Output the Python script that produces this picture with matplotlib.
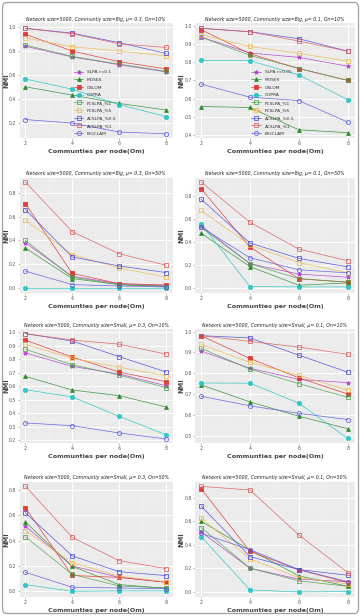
import matplotlib
matplotlib.use("Agg")
import matplotlib.pyplot as plt
from matplotlib.patches import FancyBboxPatch
from matplotlib.ticker import MultipleLocator

om = [2, 4, 6, 8]
methods = ['SLPA', 'MOSES', 'OSLOM', 'COPRA', 'PCSLPA_%1', 'PCSLPA_%5',
           'ACSLPA_%0.5', 'ACSLPA_%1', 'BIGCLAM']

# Panel 1: Big, mu=0.3, On=10%
p1 = {'SLPA': [0.84, 0.75, 0.685, 0.625], 'MOSES': [0.50, 0.43, 0.36, 0.305],
      'OSLOM': [0.94, 0.80, 0.71, 0.65], 'COPRA': [0.565, 0.48, 0.35, 0.25],
      'PCSLPA_%1': [0.85, 0.755, 0.69, 0.63], 'PCSLPA_%5': [0.91, 0.835, 0.80, 0.76],
      'ACSLPA_%0.5': [0.99, 0.95, 0.87, 0.78], 'ACSLPA_%1': [0.99, 0.945, 0.86, 0.83],
      'BIGCLAM': [0.225, 0.195, 0.12, 0.105]}
# Panel 2: Big, mu=0.1, On=10%
p2 = {'SLPA': [0.937, 0.85, 0.826, 0.778], 'MOSES': [0.557, 0.552, 0.43, 0.414],
      'OSLOM': [0.978, 0.846, 0.765, 0.70], 'COPRA': [0.81, 0.808, 0.73, 0.595],
      'PCSLPA_%1': [0.937, 0.837, 0.765, 0.70], 'PCSLPA_%5': [0.95, 0.886, 0.848, 0.805],
      'ACSLPA_%0.5': [0.985, 0.966, 0.928, 0.86], 'ACSLPA_%1': [0.985, 0.966, 0.915, 0.86],
      'BIGCLAM': [0.68, 0.608, 0.59, 0.472]}
# Panel 3: Big, mu=0.3, On=50%
p3 = {'SLPA': [0.38, 0.096, 0.034, 0.017], 'MOSES': [0.335, 0.077, 0.026, 0.012],
      'OSLOM': [0.712, 0.12, 0.034, 0.023], 'COPRA': [0.0, 0.0, 0.0, 0.0],
      'PCSLPA_%1': [0.40, 0.09, 0.025, 0.006], 'PCSLPA_%5': [0.573, 0.28, 0.167, 0.09],
      'ACSLPA_%0.5': [0.66, 0.26, 0.184, 0.128], 'ACSLPA_%1': [0.894, 0.474, 0.287, 0.19],
      'BIGCLAM': [0.14, 0.026, 0.014, 0.006]}
# Panel 4: Big, mu=0.1, On=50%
p4 = {'SLPA': [0.54, 0.21, 0.12, 0.093], 'MOSES': [0.475, 0.185, 0.023, 0.044],
      'OSLOM': [0.861, 0.355, 0.08, 0.05], 'COPRA': [0.556, 0.012, 0.009, 0.009],
      'PCSLPA_%1': [0.525, 0.21, 0.08, 0.05], 'PCSLPA_%5': [0.672, 0.372, 0.22, 0.13],
      'ACSLPA_%0.5': [0.77, 0.39, 0.256, 0.183], 'ACSLPA_%1': [0.92, 0.57, 0.337, 0.236],
      'BIGCLAM': [0.527, 0.262, 0.157, 0.131]}
# Panel 5: Small, mu=0.3, On=10%
p5 = {'SLPA': [0.845, 0.746, 0.69, 0.603], 'MOSES': [0.672, 0.571, 0.53, 0.446],
      'OSLOM': [0.94, 0.815, 0.704, 0.633], 'COPRA': [0.574, 0.52, 0.377, 0.241],
      'PCSLPA_%1': [0.872, 0.758, 0.682, 0.589], 'PCSLPA_%5': [0.91, 0.805, 0.74, 0.677],
      'ACSLPA_%0.5': [0.988, 0.933, 0.818, 0.705], 'ACSLPA_%1': [0.988, 0.94, 0.91, 0.837],
      'BIGCLAM': [0.328, 0.308, 0.254, 0.21]}
# Panel 6: Small, mu=0.1, On=10%
p6 = {'SLPA': [0.907, 0.824, 0.77, 0.755], 'MOSES': [0.744, 0.662, 0.593, 0.533],
      'OSLOM': [0.981, 0.871, 0.778, 0.70], 'COPRA': [0.753, 0.752, 0.656, 0.486],
      'PCSLPA_%1': [0.92, 0.82, 0.75, 0.684], 'PCSLPA_%5': [0.939, 0.852, 0.79, 0.718],
      'ACSLPA_%0.5': [0.981, 0.97, 0.887, 0.805], 'ACSLPA_%1': [0.981, 0.953, 0.926, 0.891],
      'BIGCLAM': [0.689, 0.643, 0.607, 0.577]}
# Panel 7: Small, mu=0.3, On=50%
p7 = {'SLPA': [0.516, 0.20, 0.11, 0.072], 'MOSES': [0.547, 0.197, 0.053, 0.024],
      'OSLOM': [0.66, 0.125, 0.11, 0.071], 'COPRA': [0.053, 0.0, 0.003, 0.003],
      'PCSLPA_%1': [0.43, 0.134, 0.042, 0.026], 'PCSLPA_%5': [0.48, 0.226, 0.12, 0.075],
      'ACSLPA_%0.5': [0.62, 0.28, 0.155, 0.124], 'ACSLPA_%1': [0.83, 0.426, 0.242, 0.18],
      'BIGCLAM': [0.15, 0.032, 0.026, 0.021]}
# Panel 8: Small, mu=0.1, On=50%
p8 = {'SLPA': [0.51, 0.202, 0.108, 0.088], 'MOSES': [0.60, 0.356, 0.137, 0.048],
      'OSLOM': [0.877, 0.345, 0.188, 0.08], 'COPRA': [0.47, 0.017, 0.0, 0.003],
      'PCSLPA_%1': [0.547, 0.202, 0.094, 0.048], 'PCSLPA_%5': [0.63, 0.28, 0.122, 0.068],
      'ACSLPA_%0.5': [0.73, 0.30, 0.19, 0.142], 'ACSLPA_%1': [0.897, 0.866, 0.484, 0.165],
      'BIGCLAM': [0.498, 0.359, 0.19, 0.088]}

titles = ['Network size=5000, Communtiy size=Big, \u03bc= 0.3, On=10%',
          'Network size=5000, Communtiy size=Big, \u03bc= 0.1, On=10%',
          'Network size=5000, Communtiy size=Big, \u03bc= 0.3, On=50%',
          'Network size=5000, Communtiy size=Big, \u03bc= 0.1, On=50%',
          'Network size=5000, Communtiy size=Small, \u03bc= 0.3, On=10%',
          'Network size=5000, Communtiy size=Small, \u03bc= 0.1, On=10%',
          'Network size=5000, Communtiy size=Small, \u03bc= 0.3, On=50%',
          'Network size=5000, Communtiy size=Small, \u03bc= 0.1, On=50%']
slpa_labels = ['SLPA r=0.1', 'SLPA r=0.05']
xlabel = 'Communties per node(Om)'
ylabel = 'NMI'

styles = {
    'SLPA':        dict(color='#B03CD0', marker='*', mfc='#B03CD0', ms=3.2),
    'MOSES':       dict(color='#2E8B2E', marker='^', mfc='#1E7A1E', ms=2.8),
    'OSLOM':       dict(color='#E0302C', marker='s', mfc='#E0302C', ms=2.6),
    'COPRA':       dict(color='#22C4C4', marker='o', mfc='#22C4C4', ms=3.0),
    'PCSLPA_%1':   dict(color='#4CA04C', marker='s', mfc='none', ms=3.0),
    'PCSLPA_%5':   dict(color='#F0B848', marker='s', mfc='none', ms=3.0),
    'ACSLPA_%0.5': dict(color='#4848E0', marker='s', mfc='none', ms=3.0),
    'ACSLPA_%1':   dict(color='#E05A5A', marker='s', mfc='none', ms=3.0),
    'BIGCLAM':     dict(color='#5A5AE8', marker='o', mfc='none', ms=3.0),
}

panels = [p1, p2, p3, p4, p5, p6, p7, p8]
ylims = [(0.07, 1.035), (0.385, 1.014), (-0.045, 0.928), (-0.044, 0.954),
         (0.18, 1.022), (0.464, 1.013), (-0.045, 0.863), (-0.043, 0.934)]
ysteps = [0.2, 0.1, 0.2, 0.2, 0.1, 0.1, 0.2, 0.2]

W, H = 361, 616
fig = plt.figure(figsize=(W / 100, H / 100), dpi=100)
fig.patch.set_facecolor('white')

cols = [(19.5, 173), (195, 355)]
rows = [(23, 138), (178, 293), (329, 443), (482, 597)]

for i, data in enumerate(panels):
    r, c = divmod(i, 2)
    l, rr = cols[c]
    t, b = rows[r]
    ax = fig.add_axes([l / W, 1 - b / H, (rr - l) / W, (b - t) / H])
    ax.set_facecolor('#EBEBEB')
    for s in ax.spines.values():
        s.set_visible(False)
    ax.set_xlim(1.75, 8.3)
    ax.set_ylim(*ylims[i])
    ax.xaxis.set_major_locator(MultipleLocator(2))
    ax.xaxis.set_minor_locator(MultipleLocator(1))
    ax.yaxis.set_major_locator(MultipleLocator(ysteps[i]))
    ax.yaxis.set_minor_locator(MultipleLocator(ysteps[i] / 2))
    ax.grid(which='major', color='white', lw=0.7)
    ax.grid(which='minor', color='#F6F6F6', lw=0.35)
    ax.set_axisbelow(True)
    ax.tick_params(which='major', length=1.2, width=0.4, color='#888888',
                   labelsize=3.3, labelcolor='#555555', pad=1.2)
    ax.tick_params(which='minor', length=0)
    ax.set_xticks(om)
    ax.yaxis.set_major_formatter(matplotlib.ticker.FormatStrFormatter('%.1f'))
    for m in methods:
        st = styles[m]
        lab = slpa_labels[c] if m == 'SLPA' else m
        ax.plot(om, data[m], color=st['color'], lw=0.5, marker=st['marker'],
                ms=st['ms'], mfc=st['mfc'], mec=st['color'], mew=0.6, label=lab,
                alpha=0.9)
    ax.set_title(titles[i], fontsize=3.35, style='italic', color='#222222', pad=1.8)
    ax.set_xlabel(xlabel, fontsize=4.6, fontweight='bold', color='#444444', labelpad=2)
    ax.set_ylabel(ylabel, fontsize=4.8, fontweight='bold', color='#444444')
    ax.yaxis.set_label_coords(-0.065, 0.5)
    if i < 2:
        ax.legend(loc='lower left', bbox_to_anchor=(0.33, -0.01), frameon=False,
                  fontsize=3.2, handlelength=2.2, labelspacing=0.8,
                  handletextpad=0.8, borderpad=0.3, labelcolor='#333333')

border = FancyBboxPatch((2.5 / W, 2.5 / H), (W - 5) / W, (H - 5) / H,
                        boxstyle='round,pad=0,rounding_size=0.01',
                        transform=fig.transFigure, fill=False,
                        edgecolor='#A0A0A0', lw=0.9)
fig.patches.append(border)

fig.savefig('out.png', dpi=100)
